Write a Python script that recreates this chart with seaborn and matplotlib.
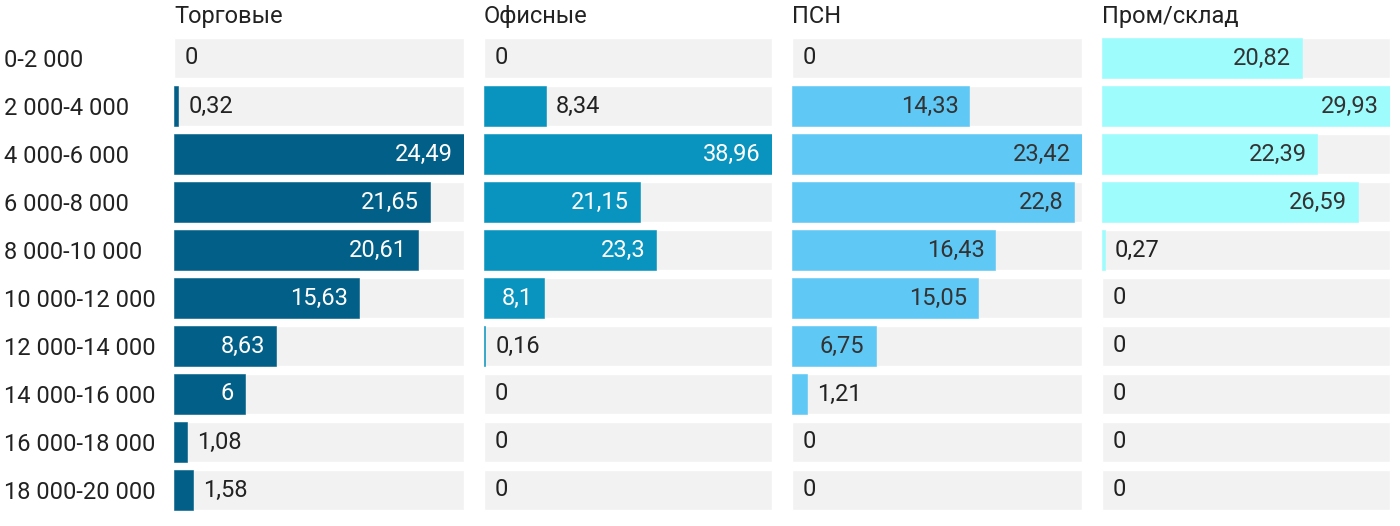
import matplotlib
matplotlib.use("Agg")
import matplotlib.pyplot as plt
import seaborn as sns
import pandas as pd

# Данные
categories = ['0-2 000', '2 000-4 000', '4 000-6 000', '6 000-8 000', '8 000-10 000',
              '10 000-12 000', '12 000-14 000', '14 000-16 000', '16 000-18 000', '18 000-20 000']
torgovye = [0, 0.32, 24.49, 21.65, 20.61, 15.63, 8.63, 6, 1.08, 1.58]
ofisnye = [0, 8.34, 38.96, 21.15, 23.3, 8.1, 0.16, 0, 0, 0]
psn = [0, 14.33, 23.42, 22.8, 16.43, 15.05, 6.75, 1.21, 0, 0]
prom = [20.82, 29.93, 22.39, 26.59, 0.27, 0, 0, 0, 0, 0]

titles = ['Торговые', 'Офисные', 'ПСН', 'Пром/склад']
series = [torgovye, ofisnye, psn, prom]
colors = ['#025f87', '#0894bf', '#5fc8f5', '#9ffcfd']
inside_text = ['white', 'white', '#333333', '#333333']

sns.set_style('white')
plt.rcParams['font.family'] = ['Roboto', 'DejaVu Sans']

W, H = 1400, 526
fig = plt.figure(figsize=(W / 100, H / 100), dpi=100)
renderer = fig.canvas.get_renderer()

# позиции панелей в пикселях (лево, ширина)
panels = [(174, 290), (484, 288), (792, 290), (1102, 288)]
top_px, bottom_px = 34, 514
pad_px = 11

for i, (title, vals, col, tcol) in enumerate(zip(titles, series, colors, inside_text)):
    left, width = panels[i]
    ax = fig.add_axes([left / W, (H - bottom_px) / H, width / W, (bottom_px - top_px) / H])
    vmax = max(vals)
    df = pd.DataFrame({'cat': categories, 'val': vals, 'bg': [vmax] * len(vals)})

    sns.barplot(data=df, x='bg', y='cat', color='#f2f2f2', width=40 / 48,
                saturation=1, ax=ax, zorder=1)
    n_bg = len(ax.patches)
    sns.barplot(data=df, x='val', y='cat', color=col, width=40 / 48,
                saturation=1, ax=ax, zorder=2, edgecolor=col, linewidth=0.4)
    # у нулевых столбиков не рисуем обводку
    for p in ax.patches[n_bg:]:
        if p.get_width() == 0:
            p.set_linewidth(0)

    ax.set_xlim(0, vmax)
    ax.set_ylim(len(categories) - 0.5, -0.5)
    ax.set_xlabel('')
    ax.set_ylabel('')
    ax.set_xticks([])
    sns.despine(ax=ax, left=True, bottom=True)

    for j, v in enumerate(vals):
        lbl = f'{v:g}'.replace('.', ',')
        bar_px = v / vmax * width
        t = ax.annotate(lbl, (v, j), xytext=(-pad_px * 0.72, 0), textcoords='offset points',
                        ha='right', va='center', fontsize=17, color=tcol, zorder=3)
        tw = t.get_window_extent(renderer).width
        if tw + 2 * pad_px > bar_px:
            t.remove()
            ax.annotate(lbl, (v, j), xytext=(10.5 * 0.72, 0), textcoords='offset points',
                        ha='left', va='center', fontsize=17, color='#222222', zorder=3)

    ax.set_title(title, loc='left', fontsize=17, color='#222222', pad=8)

    if i == 0:
        ax.tick_params(axis='y', length=0, pad=(left - 4) * 0.72, labelsize=17,
                       labelcolor='#222222')
        for t in ax.get_yticklabels():
            t.set_horizontalalignment('left')
    else:
        ax.set_yticks([])

fig.savefig('out.png', dpi=100)
